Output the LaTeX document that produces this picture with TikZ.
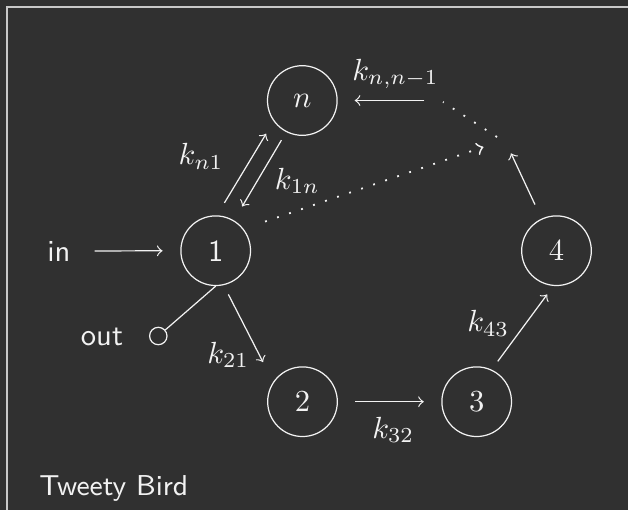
\documentclass[tikz,border=0pt]{standalone}
\usetikzlibrary{calc}
\definecolor{bg}{HTML}{303030}
\definecolor{fg}{HTML}{F2F2F2}
\definecolor{framec}{HTML}{C8C8C8}
\begin{document}
\begin{tikzpicture}[x={(0.011494cm,0)}, y={(0,-0.011494cm)},
  every node/.style={text=fg},
  state/.style={circle, draw=fg, minimum size=0.8cm, inner sep=0pt},
  port/.style={circle, draw=fg, minimum size=0.2cm, inner sep=0pt},
  lbl/.style={inner sep=0pt, anchor=base west},
  side/.style={font=\sffamily},
  conn/.style={draw=fg, ->},
  dots/.style={draw=fg, line width=0.6pt, dash pattern=on 0.6pt off 3.55pt}
]
\fill[bg] (0,0) rectangle (628,510);
\useasboundingbox (0,0) rectangle (628,510);
\draw[framec, line width=0.6pt] (628,7.3) -- (6.6,7.3) -- (6.6,510);

\node[state] (n) at (302.3,100.5) {$n$};
\node[state] (1) at (215.7,250.7) {\textsf{1}};
\node[state] (2) at (302.5,401.7) {$2$};
\node[state] (3) at (476.7,401.7) {$3$};
\node[state] (4) at (556.5,250.7) {$4$};

\node[side] (in) at (59,251) {in};
\node[side] (out) at (102,337) {out};
\node[port] (o) at (158.3,336) {};

\coordinate (jt) at (511,153.3);
\coordinate (jd) at (483.5,147);
\coordinate (da) at (497,137);
\coordinate (db) at (443,102);
\coordinate (ks) at (424.3,100.5);

\draw[conn, shorten <=4.35pt, shorten >=5.79pt] (in) -- (1);
\draw[draw=fg] (1.south) -- (o);
\draw[conn, shorten <=3.37pt, shorten >=7.28pt] (1.-77) -- (2.146);
\draw[conn, shorten <=5.72pt, shorten >=5.72pt] (2) -- (3);
\draw[conn, shorten <=3.34pt, shorten >=3.43pt] (3.65.5) -- (4.265);
\draw[conn, shorten <=5.07pt] (4.115) -- (jt);
\draw[conn, shorten >=5.56pt] (ks) -- (n);
\draw[dots] (da) -- (db);
\draw[dots, ->, shorten <=7.4pt] (1.38) -- (jd);
\draw[conn, shorten <=4.74pt, shorten >=4.74pt] (1.88) -- (n.216.6);
\draw[conn, shorten <=3.07pt, shorten >=5.26pt] (n.243) -- (1.59.5);

\node[lbl] (knn) at (351.7,80) {$k_{n,n-1}$};
\node[lbl] (kn1) at (178,164.7) {$k_{n1}$};
\node[lbl] (k1n) at (274.3,189.3) {$k_{1n}$};
\node[lbl] (k21) at (206.7,363.3) {$k_{21}$};
\node[lbl] (k32) at (371.7,438.3) {$k_{32}$};
\node[lbl] (k43) at (466.7,331.7) {$k_{43}$};

\node[lbl, font=\sffamily\fontsize{9.4pt}{11pt}\selectfont] (title) at (38.8,495.7) {Tweety Bird};
\end{tikzpicture}
\end{document}
